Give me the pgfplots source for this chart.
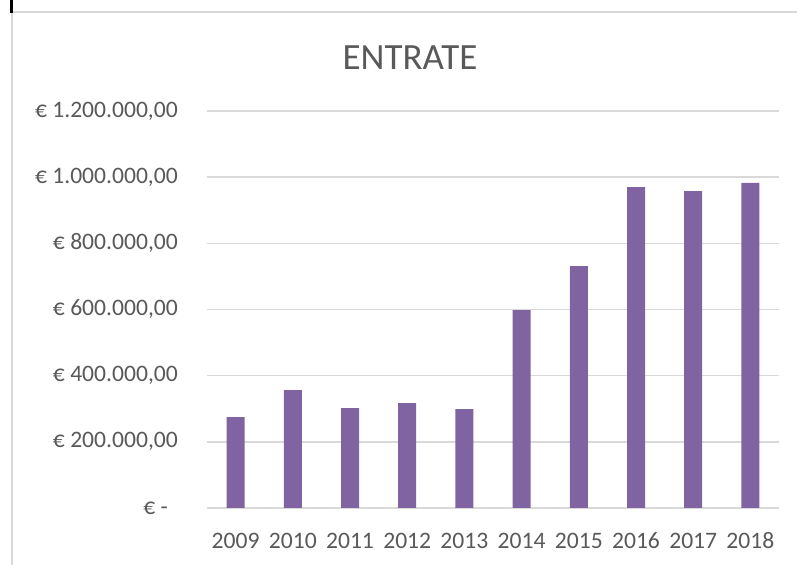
\documentclass[border=0pt]{standalone}
\usepackage{fontspec}
\setmainfont{Carlito}
\usepackage{pgfplots}
\pgfplotsset{compat=1.18}
\definecolor{barpurple}{HTML}{8064A2}
\definecolor{txtgray}{HTML}{595959}
\definecolor{gridgray}{HTML}{D9D9D9}
\begin{document}
\begin{tikzpicture}[x=1bp,y=1bp]
\useasboundingbox (0,0) rectangle (797,565);
\draw[gridgray, line width=1.2bp] (12,0) -- (12,553) -- (797,553);
\draw[black, line width=3bp] (11.5,552) -- (11.5,565);
\node[anchor=base, text=txtgray, font=\fontsize{37bp}{40bp}\selectfont, inner sep=0pt] at (410,495) {ENTRATE};
\begin{axis}[
  at={(207bp,57bp)}, anchor=south west,
  scale only axis, width=572bp, height=397bp,
  xmin=-0.5, xmax=9.5, ymin=0, ymax=1200000,
  axis line style={draw=none},
  tick style={draw=none},
  ymajorgrids, grid style={gridgray, line width=1.4bp},
  xtick={0,1,2,3,4,5,6,7,8,9},
  xticklabels={2009,2010,2011,2012,2013,2014,2015,2016,2017,2018},
  ytick={0,200000,400000,600000,800000,1000000,1200000},
  yticklabels={{€ -\hspace*{10bp}},{€ 200.000,00},{€ 400.000,00},{€ 600.000,00},{€ 800.000,00},{€ 1.000.000,00},{€ 1.200.000,00}},
  ticklabel style={text=txtgray, font=\fontsize{23.6bp}{26bp}\selectfont, inner sep=0pt},
  yticklabel style={anchor=east},
  yticklabel shift=29bp,
  xticklabel style={anchor=base},
  xticklabel shift=41bp,
  scaled y ticks=false,
]
\addplot[ybar, bar width=18bp, fill=barpurple, draw=none] coordinates {
  (0,275000) (1,356000) (2,302000) (3,317000) (4,299000)
  (5,598000) (6,731000) (7,970000) (8,958000) (9,983000)
};
\end{axis}
\end{tikzpicture}
\end{document}
